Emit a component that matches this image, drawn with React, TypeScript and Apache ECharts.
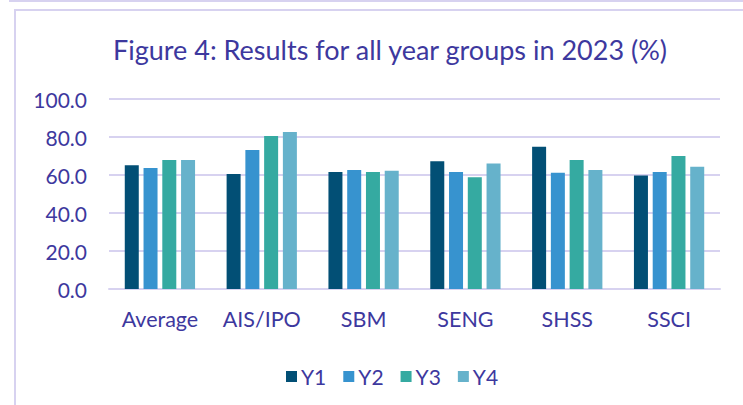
import React, { useEffect, useRef } from "react";
import * as echarts from "echarts";

const categories = ["Average", "AIS/IPO", "SBM", "SENG", "SHSS", "SSCI"];
const seriesNames = ["Y1", "Y2", "Y3", "Y4"];
const y1 = [65.1, 60.5, 61.6, 67.2, 74.9, 59.8];
const y2 = [63.7, 73.2, 62.6, 61.6, 61.2, 61.6];
const y3 = [67.9, 80.5, 61.6, 58.8, 67.9, 70.0];
const y4 = [67.9, 82.6, 62.3, 66.1, 62.6, 64.4];
const seriesValues = [y1, y2, y3, y4];
const colors = ["#024F75", "#3793CF", "#35AAA1", "#66B2CB"];

const TEXT = "#3D389E";
const LAV = "#D7D2F0";
const FONT = "Lato, 'Open Sans', sans-serif";

export default function App() {
  const ref = useRef<HTMLDivElement>(null);
  useEffect(() => {
    if (!ref.current) return;
    const chart = echarts.init(ref.current, undefined, { renderer: "svg" });
    chart.setOption({
      animation: false,
      backgroundColor: "#ffffff",
      textStyle: { fontFamily: FONT, color: TEXT },
      title: {
        text: "Figure 4: Results for all year groups in 2023 (%)",
        left: 385,
        textAlign: "center",
        top: 31,
        textStyle: { fontFamily: FONT, color: TEXT, fontSize: 27, fontWeight: "normal" },
      },
      graphic: [
        { type: "line", shape: { x1: 9, y1: 1, x2: 743, y2: 1 }, style: { stroke: LAV, lineWidth: 2 } },
        { type: "rect", shape: { x: 15, y: 10, width: 760, height: 420 }, style: { fill: "none", stroke: LAV, lineWidth: 2 } },
      ],
      legend: {
        data: seriesNames,
        left: 281,
        top: 361,
        itemWidth: 11,
        itemHeight: 11,
        itemGap: 17,
        icon: "rect",
        textStyle: { fontFamily: FONT, color: TEXT, fontSize: 21, padding: [0, 0, 0, -1] },
      },
      grid: { left: 109, right: 23, top: 99, bottom: 116 },
      xAxis: {
        type: "category",
        data: categories,
        axisLine: { show: true, lineStyle: { color: LAV, width: 2 } },
        axisTick: { show: false },
        axisLabel: { color: TEXT, fontFamily: FONT, fontSize: 21.5, margin: 19, interval: 0 },
      },
      yAxis: {
        type: "value",
        min: 0,
        max: 100,
        interval: 20,
        axisLine: { show: false },
        axisTick: { show: false },
        splitLine: { lineStyle: { color: LAV, width: 2 } },
        axisLabel: {
          color: TEXT,
          fontFamily: FONT,
          fontSize: 21,
          margin: 22,
          formatter: (v: number) => v.toFixed(1),
        },
      },
      series: seriesNames.map((name, i) => ({
        name,
        type: "bar",
        data: seriesValues[i],
        barWidth: 14,
        barGap: "34%",
        itemStyle: { color: colors[i] },
      })),
    });
    return () => chart.dispose();
  }, []);
  return <div ref={ref} style={{ width: 743, height: 405, position: "absolute", left: 0, top: 0 }} />;
}
